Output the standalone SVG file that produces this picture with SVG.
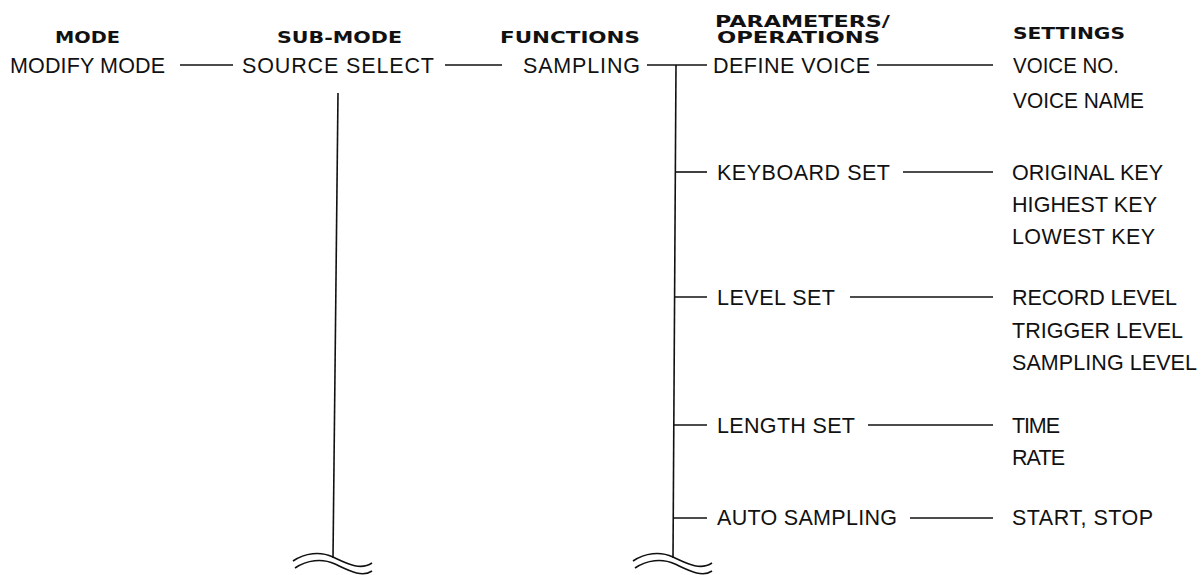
<svg xmlns="http://www.w3.org/2000/svg" width="1202" height="575" viewBox="0 0 1202 575">
<style>
.h{font-family:"DejaVu Sans","Liberation Sans",sans-serif;font-weight:bold;font-size:15.5px;fill:#111}
.t{font-family:"Liberation Sans",Arial,sans-serif;font-size:21.5px;fill:#111}
.c line,.c path{stroke:#111;stroke-width:1.6;fill:none}
</style>
<rect width="1202" height="575" fill="#fff"/>
<g id="headers">
<text class="h" x="55" y="43" textLength="65" lengthAdjust="spacingAndGlyphs">MODE</text>
<text class="h" x="277" y="43" textLength="125" lengthAdjust="spacingAndGlyphs">SUB-MODE</text>
<text class="h" x="500" y="43" textLength="140" lengthAdjust="spacingAndGlyphs">FUNCTIONS</text>
<text class="h" x="715" y="27" textLength="175" lengthAdjust="spacingAndGlyphs">PARAMETERS/</text>
<text class="h" x="717" y="43" textLength="163" lengthAdjust="spacingAndGlyphs">OPERATIONS</text>
<text class="h" x="1013" y="39" textLength="112" lengthAdjust="spacingAndGlyphs">SETTINGS</text>
</g>
<g id="modify-mode"><text class="t" x="10" y="73" textLength="155" lengthAdjust="spacing">MODIFY MODE</text></g>
<g id="source-select"><text class="t" x="242" y="73" textLength="192" lengthAdjust="spacing">SOURCE SELECT</text></g>
<g id="sampling"><text class="t" x="523" y="73" textLength="117" lengthAdjust="spacing">SAMPLING</text></g>
<g id="define-voice"><text class="t" x="713" y="73" textLength="157" lengthAdjust="spacing">DEFINE VOICE</text></g>
<g id="define-voice-settings">
<text class="t" x="1013" y="73" textLength="106" lengthAdjust="spacingAndGlyphs">VOICE NO.</text>
<text class="t" x="1013" y="108" textLength="131" lengthAdjust="spacingAndGlyphs">VOICE NAME</text>
</g>
<g id="keyboard-set"><text class="t" x="717" y="180" textLength="173" lengthAdjust="spacing">KEYBOARD SET</text></g>
<g id="keyboard-settings">
<text class="t" x="1012" y="180" textLength="151" lengthAdjust="spacing">ORIGINAL KEY</text>
<text class="t" x="1012" y="212" textLength="145" lengthAdjust="spacing">HIGHEST KEY</text>
<text class="t" x="1012" y="244" textLength="143" lengthAdjust="spacing">LOWEST KEY</text>
</g>
<g id="level-set"><text class="t" x="717" y="305" textLength="118" lengthAdjust="spacing">LEVEL SET</text></g>
<g id="level-settings">
<text class="t" x="1012" y="305" textLength="165" lengthAdjust="spacing">RECORD LEVEL</text>
<text class="t" x="1012" y="338" textLength="171" lengthAdjust="spacing">TRIGGER LEVEL</text>
<text class="t" x="1012" y="370" textLength="185" lengthAdjust="spacing">SAMPLING LEVEL</text>
</g>
<g id="length-set"><text class="t" x="717" y="433" textLength="138" lengthAdjust="spacing">LENGTH SET</text></g>
<g id="length-settings">
<text class="t" x="1012" y="433" textLength="48" lengthAdjust="spacing">TIME</text>
<text class="t" x="1012" y="465" textLength="53" lengthAdjust="spacing">RATE</text>
</g>
<g id="auto-sampling"><text class="t" x="717" y="525" textLength="180" lengthAdjust="spacing">AUTO SAMPLING</text></g>
<g id="auto-settings"><text class="t" x="1012" y="525" textLength="141" lengthAdjust="spacing">START, STOP</text></g>
<g id="connectors" class="c">
<line x1="180" y1="65" x2="233" y2="65"/>
<line x1="445" y1="65" x2="502" y2="65"/>
<line x1="647" y1="65" x2="707" y2="65"/>
<line x1="877" y1="65" x2="993" y2="65"/>
<line x1="338" y1="93" x2="333" y2="558"/>
<line x1="676" y1="65" x2="673" y2="558"/>
<line x1="675" y1="172" x2="707" y2="172"/>
<line x1="903" y1="172" x2="993" y2="172"/>
<line x1="674" y1="297" x2="707" y2="297"/>
<line x1="850" y1="297" x2="993" y2="297"/>
<line x1="674" y1="425" x2="707" y2="425"/>
<line x1="868" y1="425" x2="993" y2="425"/>
<line x1="673" y1="518" x2="707" y2="518"/>
<line x1="910" y1="518" x2="993" y2="518"/>
<path d="M293,561 C305,553 320,551 333,557 S360,571 372,563"/>
<path d="M295,568 C307,560 322,558 335,564 S362,578 372,571"/>
<path d="M633,561 C645,553 660,551 673,557 S700,571 712,563"/>
<path d="M635,568 C647,560 662,558 675,564 S702,578 712,571"/>
</g>
</svg>
